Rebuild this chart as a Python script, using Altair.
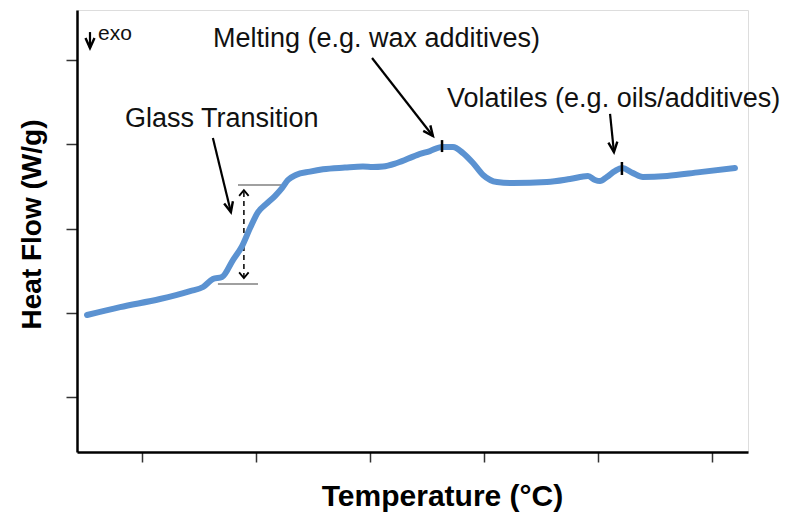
import altair as alt
import pandas as pd

# ---- data ----
temp = [25.9, 40.4, 57.9, 71.1, 76.8, 81.1, 85.1, 89.9, 93.9, 97.4,
        100.9, 104.4, 108.3, 111.4, 114.0, 117.5, 123.7, 129.4, 139.0, 146.9,
        151.3, 155.7, 161.8, 170.6, 176.3, 181.6, 186.4, 190.8, 195.2, 199.6,
        205.7, 212.7, 227.6, 237.7, 245.6, 248.7, 250.9, 253.9, 257.4, 260.5,
        265.4, 269.7, 280.3, 294.7, 310.1]
heat = [0.487, 0.534, 0.582, 0.629, 0.653, 0.700, 0.712, 0.813, 0.896, 1.003,
        1.098, 1.145, 1.193, 1.240, 1.288, 1.318, 1.338, 1.352, 1.362, 1.368,
        1.365, 1.368, 1.389, 1.436, 1.460, 1.484, 1.484, 1.448, 1.389, 1.318,
        1.276, 1.270, 1.276, 1.294, 1.312, 1.288, 1.282, 1.306, 1.341, 1.359,
        1.329, 1.306, 1.312, 1.335, 1.359]

x_ticks = [50, 100, 150, 200, 250, 300]
y_ticks = [0, 0.5, 1.0, 1.5, 2.0]
x_domain = [21.5, 315.8]
y_domain = [-0.326, 2.297]

# annotation labels
label_text = ["Glass Transition", "Melting (e.g. wax additives)", "Volatiles (e.g. oils/additives)"]
label_t = [42.5, 81.1, 183.8]
label_hf = [1.602, 2.077, 1.721]

# pointer arrows (start -> tip)
arrow_t = [81.1, 150.9, 255.3, 27.2]
arrow_hf = [1.537, 2.012, 1.680, 2.166]
arrow_t2 = [89.0, 177.6, 257.0, 27.2]
arrow_hf2 = [1.098, 1.549, 1.454, 2.071]
arrow_ang = [346.3, 322.3, 353.8, 0]

# glass transition step lines
step_t = [83.3, 92.1]
step_t2 = [100.9, 111.0]
step_hf = [0.671, 1.258]

# dashed double arrow
dash_t = 94.7
dash_lo = 0.706
dash_hi = 1.228

# event markers on the curve
mark_t = [181.6, 260.5]
mark_lo = [1.454, 1.318]
mark_hi = [1.525, 1.395]

FONT = "Liberation Sans"

xs = alt.Scale(domain=x_domain, nice=False, zero=False)
ys = alt.Scale(domain=y_domain, nice=False, zero=False)

xaxis = alt.Axis(values=x_ticks, labels=False, grid=False, domainColor="black",
                 domainWidth=2.5, tickColor="#333333", tickWidth=1.5, tickSize=10,
                 title="Temperature (°C)", titleFont=FONT, titleFontSize=30,
                 titleFontWeight="bold", titleColor="black", titleX=365, titleY=53,
                 titleAlign="center", titleBaseline="alphabetic")
yaxis = alt.Axis(values=y_ticks, labels=False, grid=False, domainColor="black",
                 domainWidth=2.5, tickColor="#333333", tickWidth=1.5, tickSize=11,
                 title="Heat Flow (W/g)", titleFont=FONT, titleFontSize=28,
                 titleFontWeight="bold", titleColor="black", titleX=-37, titleY=214,
                 titleAlign="center", titleBaseline="alphabetic", titleAngle=270)


def X(f="T"):
    return alt.X(f"{f}:Q", scale=xs, axis=xaxis)


def Y(f="HF"):
    return alt.Y(f"{f}:Q", scale=ys, axis=yaxis)


curve_df = pd.DataFrame({"T": temp, "HF": heat, "o": list(range(len(temp)))})
curve = alt.Chart(curve_df).mark_line(
    color="#5b92d1", strokeWidth=6, strokeCap="round", strokeJoin="round",
    interpolate="monotone"
).encode(x=X(), y=Y(), order="o:O")

step_df = pd.DataFrame({"T": step_t, "T2": step_t2, "HF": step_hf})
steps = alt.Chart(step_df).mark_rule(color="#808080", strokeWidth=1.5).encode(
    x=X(), x2="T2:Q", y=Y())

dash_df = pd.DataFrame({"T": [dash_t], "HF": [dash_lo], "HF2": [dash_hi]})
dash = alt.Chart(dash_df).mark_rule(color="black", strokeWidth=1.5, strokeDash=[5, 4]).encode(
    x=X(), y=Y(), y2="HF2:Q")

chev_df = pd.DataFrame({"T": [dash_t, dash_t], "HF": [dash_hi, dash_lo], "ang": [180, 0]})
chev = alt.Chart(chev_df).mark_point(
    shape="M -1 -1.2 L 0 0 L 1 -1.2", size=90, filled=False, color="black",
    strokeWidth=1.8, opacity=1
).encode(x=X(), y=Y(), angle=alt.Angle("ang:Q", scale=None))

arr_df = pd.DataFrame({"T": arrow_t, "HF": arrow_hf, "T2": arrow_t2, "HF2": arrow_hf2,
                       "ang": arrow_ang})
arr_lines = alt.Chart(arr_df).mark_rule(color="black", strokeWidth=2.2).encode(
    x=X(), y=Y(), x2="T2:Q", y2="HF2:Q")
heads_df = pd.DataFrame({"T": arrow_t2, "HF": arrow_hf2, "ang": arrow_ang})
heads = alt.Chart(heads_df).mark_point(
    shape="M -0.9 -2 L 0 0 L 0.9 -2", size=100, filled=False, color="black",
    strokeWidth=2.4, opacity=1
).encode(x=X(), y=Y(), angle=alt.Angle("ang:Q", scale=None))

mk_df = pd.DataFrame({"T": mark_t, "HF": mark_lo, "HF2": mark_hi})
marks = alt.Chart(mk_df).mark_rule(color="black", strokeWidth=2.5).encode(
    x=X(), y=Y(), y2="HF2:Q")

lab_df = pd.DataFrame({"T": label_t, "HF": label_hf, "txt": label_text})
labels = alt.Chart(lab_df).mark_text(
    font=FONT, fontSize=27, color="#111111", align="left", baseline="alphabetic"
).encode(x=X(), y=Y(), text="txt:N")

exo_df = pd.DataFrame({"T": [30.7], "HF": [2.119], "txt": ["exo"]})
exo = alt.Chart(exo_df).mark_text(
    font=FONT, fontSize=21, color="#111111", align="left", baseline="alphabetic"
).encode(x=X(), y=Y(), text="txt:N")

chart = alt.layer(steps, dash, chev, arr_lines, heads, curve, marks, labels, exo).properties(
    width=671, height=442,
    autosize=alt.AutoSizeParams(type="none"),
    padding={"left": 77, "top": 10, "right": 44, "bottom": 62},
).configure_view(stroke=None).configure(background="white")

chart.save("out.html", embed_options={"renderer": "svg", "actions": False})
